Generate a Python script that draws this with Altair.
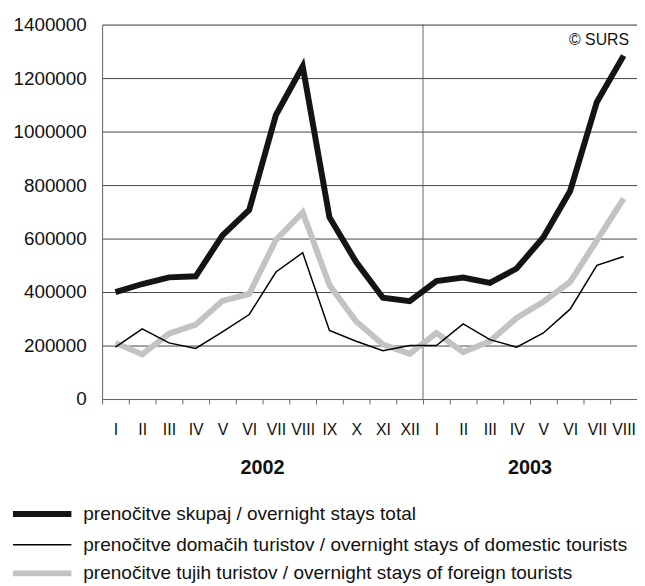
import altair as alt
import pandas as pd

months_2002 = ["I", "II", "III", "IV", "V", "VI", "VII", "VIII", "IX", "X", "XI", "XII"]
months_2003 = ["I", "II", "III", "IV", "V", "VI", "VII", "VIII"]
years = ["2002", "2003"]

total = [400000, 430000, 455000, 459000, 612000, 707000, 1062000, 1244000, 680000, 512000,
         379000, 366000, 441000, 454000, 434000, 488000, 605000, 778000, 1111000, 1284000]
domestic = [194000, 262000, 210000, 189000, 251000, 316000, 475000, 547000, 256000, 216000,
            181000, 200000, 200000, 281000, 222000, 194000, 247000, 336000, 500000, 533000]
foreign = [210000, 167000, 244000, 278000, 367000, 393000, 595000, 698000, 426000, 290000,
           204000, 169000, 247000, 175000, 216000, 303000, 364000, 438000, 593000, 749000]

series_names = [
    "prenočitve skupaj / overnight stays total",
    "prenočitve domačih turistov / overnight stays of domestic tourists",
    "prenočitve tujih turistov / overnight stays of foreign tourists",
]
y_ticks = [0, 200000, 400000, 600000, 800000, 1000000, 1200000, 1400000]
credit = "© SURS"

keys = [f"{m} 2002" for m in months_2002] + [f"{m} 2003" for m in months_2003]
df = pd.DataFrame({
    "key": keys * 3,
    "value": total + domestic + foreign,
    "series": [s for s in series_names for _ in keys],
})

xscale = alt.Scale(type="band", domain=keys, paddingInner=0, paddingOuter=0)
yscale = alt.Scale(domain=[0, 1400000], nice=False)

xaxis = alt.Axis(labelExpr="split(datum.label, ' ')[0]", labelAngle=0, tickBand="extent",
                 tickSize=5, tickColor="#666", domainColor="#666", labelFont="Liberation Sans",
                 labelFontSize=16, labelColor="#111", labelPadding=18, grid=False, title=None,
                 labelOverlap=False, labelBound=False)
yaxis = alt.Axis(values=y_ticks, format="d", tickSize=0, labelFontSize=19, labelFont="Liberation Sans",
                 labelPadding=16, domainColor="#666", gridColor="#444", grid=True, title=None,
                 labelColor="#111", labelOverlap=False)

X = alt.X("key:N", scale=xscale, axis=xaxis, title=None, sort=keys)
Y = alt.Y("value:Q", scale=yscale, axis=yaxis, title=None)


def series_line(name, color, width):
    return alt.Chart(df).transform_filter(alt.datum.series == name).mark_line(
        color=color, strokeWidth=width, strokeJoin="miter"
    ).encode(x=X, y=Y)


sep = alt.Chart(pd.DataFrame({"key": [keys[12]]})).mark_rule(color="#666", strokeWidth=1).encode(
    x=alt.X("key:N", scale=xscale, axis=xaxis, title=None, sort=keys, bandPosition=0)
)

year_df = pd.DataFrame({"key": [keys[5], keys[15]], "year": years})
year_text = alt.Chart(year_df).mark_text(fontSize=20, fontWeight="bold", color="#111",
                                         baseline="middle", align="center").encode(
    x=alt.X("key:N", scale=xscale, axis=xaxis, title=None, sort=keys, bandPosition=1),
    y=alt.value(448),
    text="year:N",
)

credit_text = alt.Chart(pd.DataFrame({"t": [credit]})).mark_text(
    fontSize=16, align="right", baseline="middle", color="#111"
).encode(x=alt.value(532), y=alt.value(15.5), text="t:N")

legend_styles = [("#141414", 6, 494), ("#000000", 1.5, 525), ("#c3c3c3", 6, 554)]
legend_layers = []
for name, (color, width, ypos) in zip(series_names, legend_styles):
    ldf = pd.DataFrame({"label": [name]})
    legend_layers.append(
        alt.Chart(ldf).mark_rule(color=color, strokeWidth=width).encode(
            x=alt.value(-90), x2=alt.value(-31), y=alt.value(ypos)
        )
    )
    legend_layers.append(
        alt.Chart(ldf).mark_text(fontSize=19.2, align="left", baseline="middle", color="#111").encode(
            x=alt.value(-19), y=alt.value(ypos), text="label:N"
        )
    )

chart = alt.layer(
    sep,
    series_line(series_names[2], "#c3c3c3", 6),
    series_line(series_names[1], "#000000", 1.5),
    series_line(series_names[0], "#141414", 6),
    year_text,
    credit_text,
    *legend_layers,
).properties(
    width=540, height=378,
    padding={"left": 95, "top": 14, "right": 0, "bottom": 186},
    autosize=alt.AutoSizeParams(type="none"),
).configure_view(stroke=None).configure(font="Liberation Sans")

chart.save("out.html", embed_options={"renderer": "svg", "actions": False})
